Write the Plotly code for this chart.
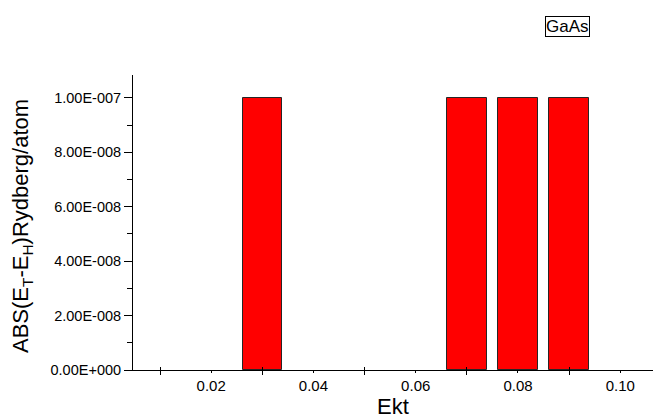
import plotly.graph_objects as go

# Kinetic-energy cutoff values and the absolute energy difference at each
ekt = [0.01, 0.02, 0.03, 0.04, 0.05, 0.06, 0.07, 0.08, 0.09, 0.10]
abs_diff = [0, 0, 1.0e-7, 0, 0, 0, 1.0e-7, 1.0e-7, 1.0e-7, 0]

# Axis tick settings
x_label_vals = [0.02, 0.04, 0.06, 0.08, 0.10]
x_label_text = ["0.02", "0.04", "0.06", "0.08", "0.10"]
x_cross_vals = [0.01, 0.03, 0.05, 0.07, 0.09]
y_major_vals = [0, 2e-8, 4e-8, 6e-8, 8e-8, 1e-7]
y_minor_vals = [1e-8, 3e-8, 5e-8, 7e-8, 9e-8]


def sci_label(v):
    # Origin-style scientific label: 2 decimals, sign, 3-digit exponent
    if v == 0:
        return "0.00E+000"
    mant, exp = f"{v:.2E}".split("E")
    e = int(exp)
    return f"{mant}E{'-' if e < 0 else '+'}{abs(e):03d}"


y_major_text = [sci_label(v) for v in y_major_vals]

FONT = "Liberation Sans, Arial, sans-serif"
x_range = [0.00472, 0.1064]

fig = go.Figure()
# zero-height bars get no outline so they stay invisible on the axis
fig.add_trace(go.Bar(
    x=ekt, y=abs_diff, width=0.0077,
    marker=dict(color="#ff0000",
                line=dict(color="#262626",
                          width=[1 if v else 0 for v in abs_diff])),
    showlegend=False, hoverinfo="x+y",
))
# empty companion trace so the overlaid tick axis is rendered
fig.add_trace(go.Scatter(x=[], y=[], xaxis="x2", yaxis="y",
                         showlegend=False, hoverinfo="skip"))

fig.update_layout(
    width=662, height=420,
    margin=dict(l=133, r=9, t=75, b=50),
    paper_bgcolor="white", plot_bgcolor="white",
    font=dict(family=FONT, color="black"),
    bargap=0,
    xaxis=dict(
        range=x_range, showgrid=False, zeroline=False,
        showline=True, linecolor="black", linewidth=1,
        tickmode="array", tickvals=x_label_vals, ticktext=x_label_text,
        ticks="outside", ticklen=2, tickcolor="black",
        tickfont=dict(size=15, family=FONT),
        minor=dict(tickmode="array", tickvals=x_cross_vals,
                   ticks="outside", ticklen=4, tickcolor="black"),
        title=dict(text="Ekt", font=dict(size=22, family=FONT), standoff=3),
    ),
    xaxis2=dict(
        range=x_range, overlaying="x", anchor="y", side="bottom",
        showgrid=False, zeroline=False, showline=False,
        tickmode="array", tickvals=x_cross_vals, showticklabels=False,
        ticks="inside", ticklen=3, tickcolor="black",
    ),
    yaxis=dict(
        range=[0, 1.084e-7], showgrid=False, zeroline=False,
        showline=True, linecolor="black", linewidth=1,
        tickmode="array", tickvals=y_major_vals, ticktext=y_major_text,
        ticks="outside", ticklen=8, tickcolor="black",
        tickfont=dict(size=14.5, family=FONT),
        minor=dict(tickmode="array", tickvals=y_minor_vals,
                   ticks="outside", ticklen=5, tickcolor="black"),
    ),
    annotations=[
        dict(
            text="ABS(E<sub>T</sub>-E<sub>H</sub>)Rydberg/atom",
            xref="paper", yref="paper",
            x=(22 - 133) / 520, y=(370 - 226) / 295,
            xanchor="center", yanchor="middle", textangle=-90,
            showarrow=False, font=dict(size=22, family=FONT, color="black"),
        ),
        dict(
            text="GaAs", xref="paper", yref="paper",
            x=(567 - 133) / 520, y=(370 - 27) / 295,
            xanchor="center", yanchor="middle", showarrow=False,
            font=dict(size=17, family=FONT, color="black"),
            bordercolor="black", borderwidth=1, borderpad=0,
        ),
    ],
)

fig.write_html("out.html")
